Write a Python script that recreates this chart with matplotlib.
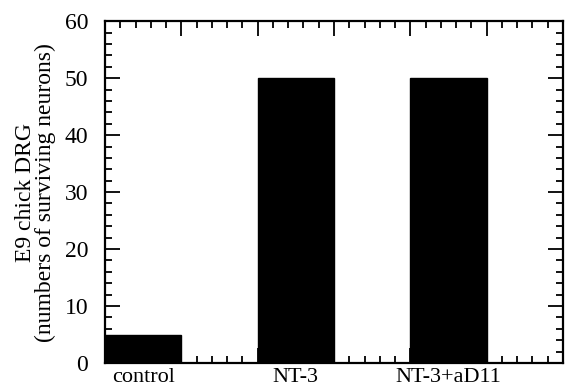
import matplotlib.pyplot as plt
from matplotlib.ticker import MultipleLocator
import matplotlib.transforms as mtransforms

categories = ['control', 'NT-3', 'NT-3+aD11']
neurons = [5, 50, 50]
bar_left = [0, 2, 4]

plt.rcParams['font.family'] = ['Liberation Serif', 'DejaVu Serif']

fig = plt.figure(figsize=(5.69, 3.92), dpi=100)
ax = fig.add_axes([0.1845, 0.074, 0.805, 0.872])

ax.bar(bar_left, neurons, width=1, align='edge', color='black', edgecolor='black')

ax.set_xlim(0, 6)
ax.set_ylim(0, 60)
ax.xaxis.set_major_locator(MultipleLocator(1))
ax.xaxis.set_minor_locator(MultipleLocator(0.2))
ax.yaxis.set_major_locator(MultipleLocator(10))
ax.yaxis.set_minor_locator(MultipleLocator(2))
ax.set_xticklabels([])

ax.tick_params(which='both', direction='in', top=True, right=True, width=1.3)
ax.tick_params(which='major', length=11)
ax.tick_params(which='minor', length=5)
ax.tick_params(axis='y', labelsize=17, pad=12)
for s in ax.spines.values():
    s.set_linewidth(1.6)

trans = mtransforms.blended_transform_factory(ax.transData, ax.transAxes)
for x, name in zip(bar_left, categories):
    ax.text(x + 0.5, -0.015, name, transform=trans, ha='center', va='top', fontsize=16)

ax.set_ylabel('E9 chick DRG\n(numbers of surviving neurons)', fontsize=17, labelpad=6,
              linespacing=0.95)

fig.savefig('out.png', dpi=100)
